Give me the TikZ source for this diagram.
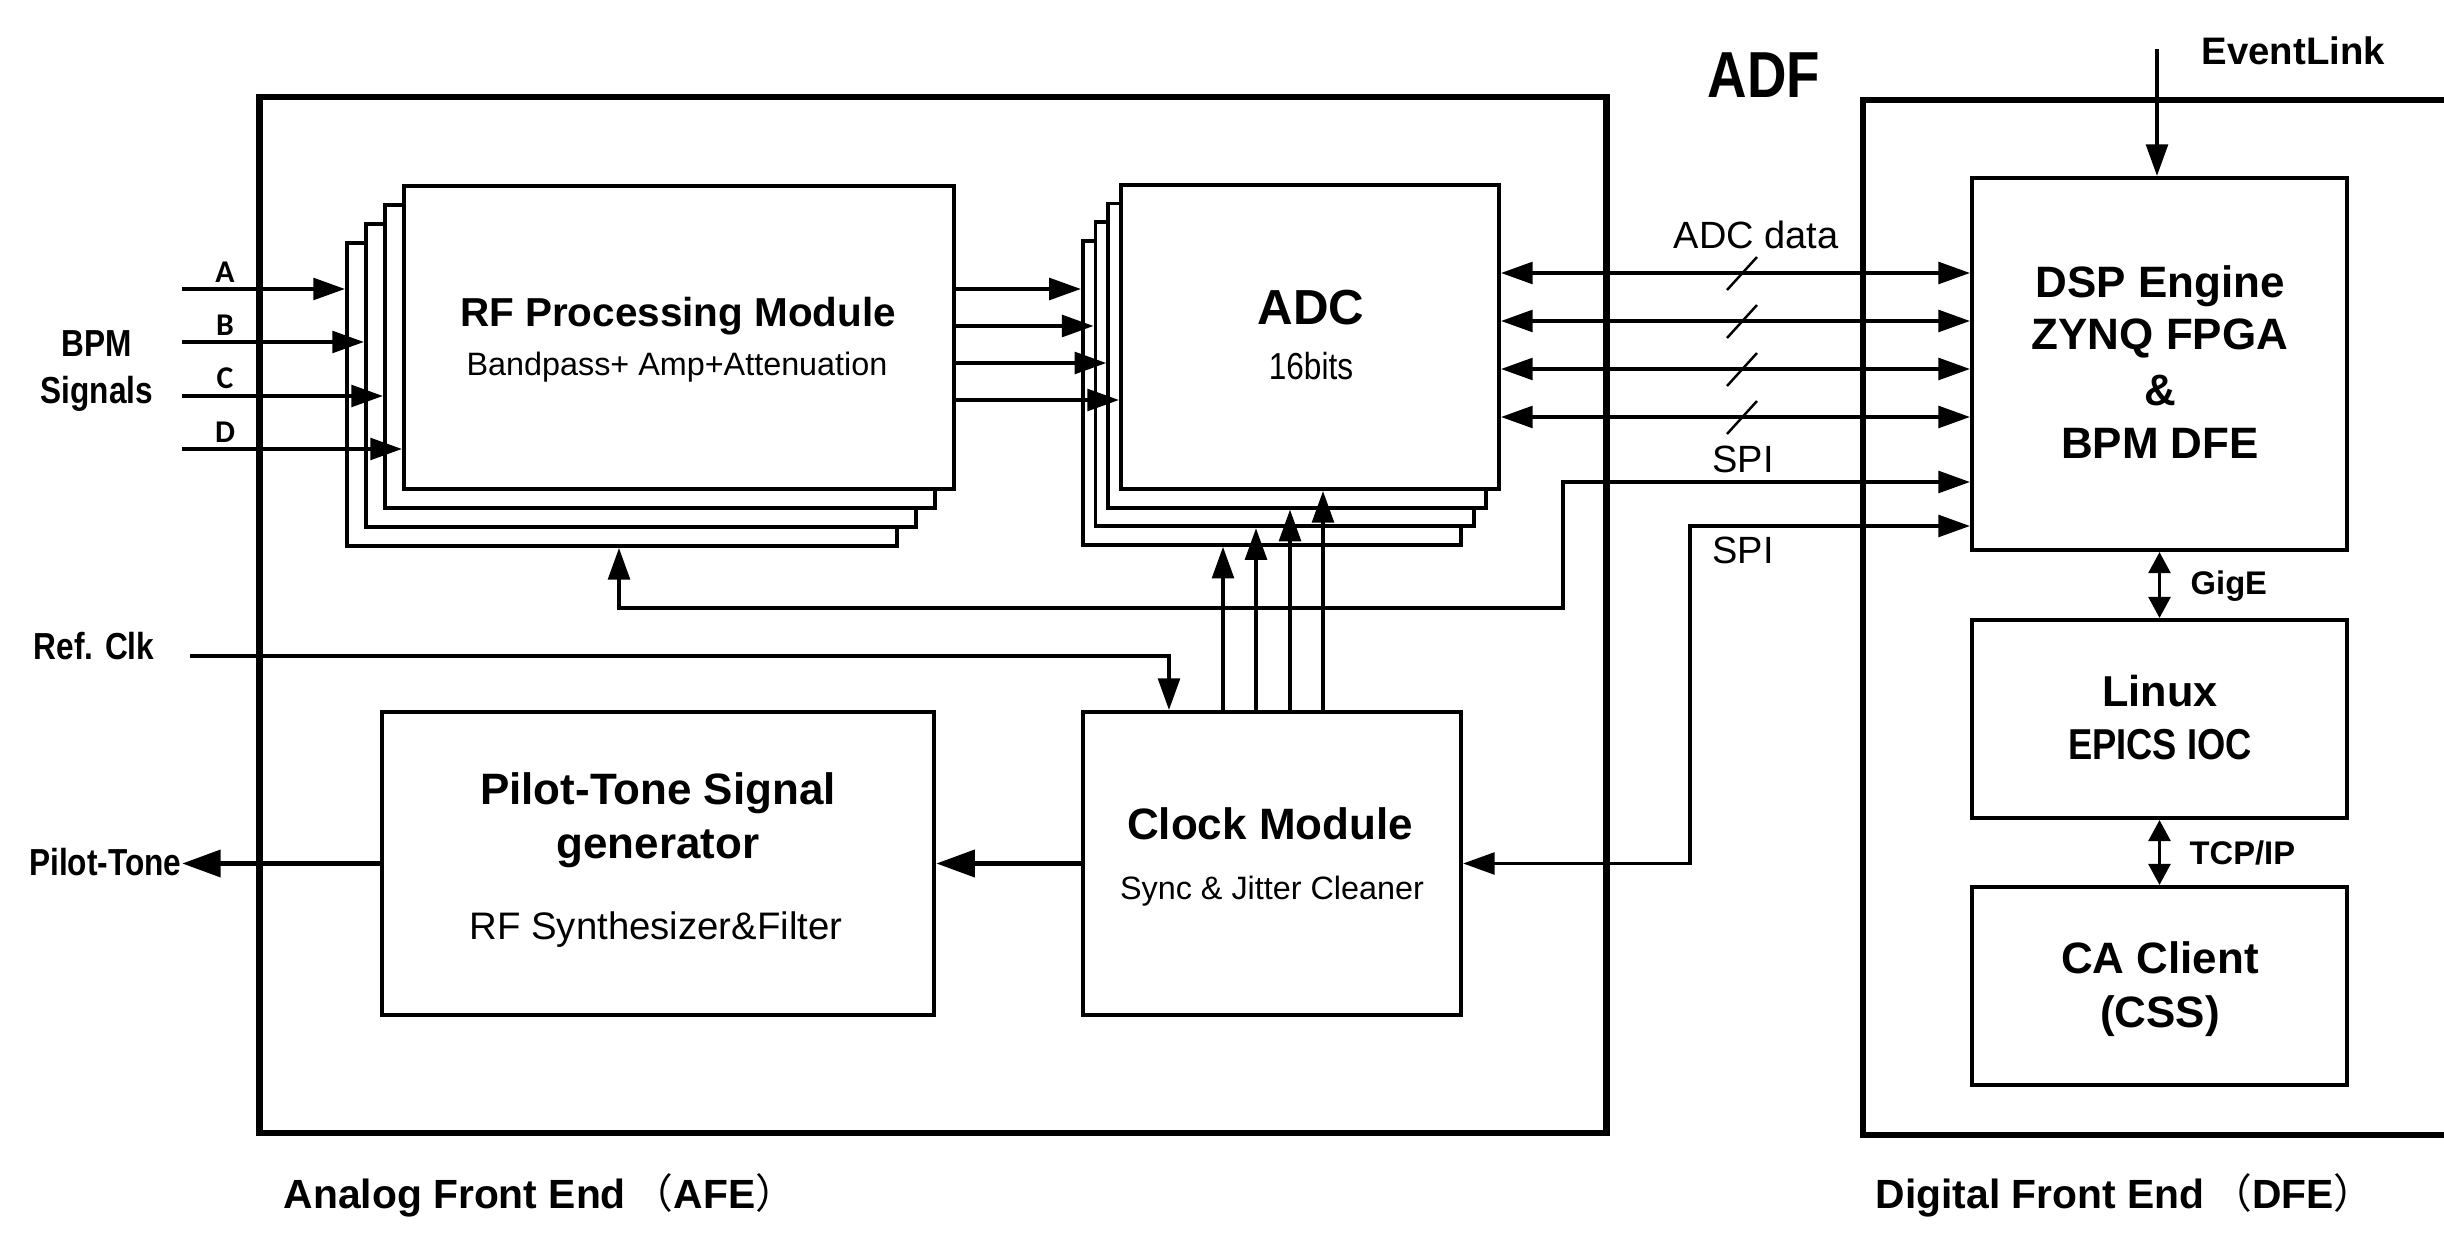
\documentclass[tikz,border=0pt]{standalone}
\usepackage{fontspec}
\setmainfont{Liberation Sans}
\newfontfamily\narrowfont{Liberation Sans}[FakeStretch=0.84]
\newfontfamily\calfont{Carlito}
\newfontfamily\cjkfont{Noto Sans CJK SC}
\usetikzlibrary{arrows.meta}

\begin{document}
\begin{tikzpicture}[x=0.01cm, y=-0.01cm, >={Triangle[length=9pt,width=6.2pt]},
    blk/.style={draw, line width=1.1pt, fill=white, inner sep=0pt},
    sig/.style={line width=0.95pt},
    thk/.style={line width=1.6pt, -{Triangle[length=11pt,width=7.5pt]}},
    lnk/.style={line width=0.95pt, {Triangle[length=6pt,width=6.2pt]}-{Triangle[length=6pt,width=6.2pt]}},
    ttl/.style={anchor=base, inner sep=0pt, font=\bfseries\fontsize{12.5}{15}\selectfont},
    sub/.style={anchor=base, inner sep=0pt, font=\fontsize{9.2}{11}\selectfont},
    lbl/.style={anchor=base, inner sep=0pt, font=\narrowfont\bfseries\fontsize{10.7}{13}\selectfont},
    wire/.style={anchor=base, inner sep=0pt, font=\fontsize{10.8}{13}\selectfont}]
    \useasboundingbox (0,0) rectangle (2444,1234);
    % AFE and DFE frames
    \node[draw, line width=1.8pt, minimum width=13.46cm, minimum height=10.36cm] (afe) at (933,615) {};
    \draw[line width=1.8pt] (2444,100) -- (1863,100) -- (1863,1135) -- (2444,1135);
    % stacked modules
    \foreach \k in {3,2,1,0}
        \node[blk, minimum width=5.5cm, minimum height=3.03cm] (rf\k) at (679-19*\k,337.5+19*\k) {};
    \foreach \k in {3,2,1,0}
        \node[blk, minimum width=3.78cm, minimum height=3.04cm] (adc\k) at (1310-12.7*\k,337+18.6*\k) {};
    \node[blk, minimum width=5.52cm, minimum height=3.03cm] (pilot) at (658,863.5) {};
    \node[blk, minimum width=3.78cm, minimum height=3.03cm] (clock) at (1272,863.5) {};
    \node[blk, minimum width=3.75cm, minimum height=3.72cm] (dsp) at (2159.5,364) {};
    \node[blk, minimum width=3.75cm, minimum height=1.98cm] (linux) at (2159.5,719) {};
    \node[blk, minimum width=3.75cm, minimum height=1.98cm] (caclient) at (2159.5,986) {};
    % box texts
    \node[ttl, font=\bfseries\fontsize{11.5}{14}\selectfont] (rftitle) at (678,327) {RF Processing Module};
    \node[sub] (rfsub) at (677,376) {Bandpass+ Amp+Attenuation};
    \node[ttl, font=\bfseries\fontsize{14}{17}\selectfont] (adctitle) at (1311,325) {ADC};
    \node[lbl, font=\narrowfont\fontsize{10.7}{13}\selectfont] (adcsub) at (1311,380) {16bits};
    \node[ttl] (pt1) at (658,805) {Pilot-Tone Signal};
    \node[ttl] (pt2) at (658,859) {generator};
    \node[sub, font=\fontsize{10.9}{13}\selectfont] (ptsub) at (656,940) {RF Synthesizer\&Filter};
    \node[ttl] (clktitle) at (1270,840) {Clock Module};
    \node[sub] (clksub) at (1272,900) {Sync \& Jitter Cleaner};
    \foreach \y/\t [count=\i] in {298/DSP Engine, 350/ZYNQ FPGA, 406/\&, 459/BPM DFE}
        \node[ttl] (dsptxt\i) at (2160,\y) {\t};
    \node[ttl, font=\bfseries\fontsize{12.3}{15}\selectfont] (lnx1) at (2160,707) {Linux};
    \node[ttl, font=\narrowfont\bfseries\fontsize{12.3}{15}\selectfont] (lnx2) at (2160,760) {EPICS IOC};
    \node[ttl] (ca1) at (2160,974) {CA Client};
    \node[ttl] (ca2) at (2160,1028) {(CSS)};
    % outside labels
    \node[ttl, font=\narrowfont\bfseries\fontsize{18.5}{22}\selectfont] (adf) at (1764,98) {ADF};
    \node[ttl, anchor=base west, font=\bfseries\fontsize{10.9}{13}\selectfont] (evt) at (2201,65) {EventLink};
    \node[wire] (adcdata) at (1756,249) {ADC data};
    \node[wire] (spi1) at (1743,473) {SPI};
    \node[wire] (spi2) at (1743,564) {SPI};
    \node[ttl, anchor=base west, font=\bfseries\fontsize{9.3}{11}\selectfont] (gige) at (2190,595) {GigE};
    \node[ttl, anchor=base west, font=\bfseries\fontsize{9.3}{11}\selectfont] (tcpip) at (2189,865) {TCP/IP};
    \node[lbl] (bpm1) at (97,357) {BPM};
    \node[lbl] (bpm2) at (97,404) {Signals};
    \node[lbl] (refclk) at (94,660) {Ref. Clk};
    \node[lbl, anchor=base east] (ptout) at (182,876) {Pilot-Tone};
    \foreach \l/\y in {A/283,B/336,C/389,D/443}
        \node[anchor=base, inner sep=0pt, font=\calfont\bfseries\fontsize{9}{11}\selectfont] (in\l) at (225,\y) {\l};
    \node[ttl, anchor=base west, font=\bfseries\fontsize{11.6}{14}\selectfont] (afelbl) at (283,1209)
        {Analog Front End\hspace{2pt}{\cjkfont\mdseries（}AFE{\cjkfont\mdseries）}};
    \node[ttl, anchor=base west, font=\bfseries\fontsize{11.6}{14}\selectfont] (dfelbl) at (1875,1209)
        {Digital Front End\hspace{2pt}{\cjkfont\mdseries（}DFE{\cjkfont\mdseries）}};
    % BPM inputs
    \foreach \y/\k in {289/3, 342/2, 396/1, 449/0} {
        \coordinate (bpmin\k) at (182,\y);
        \draw[sig,->] (bpmin\k) -- (rf\k.west |- bpmin\k);
    }
    % RF to ADC
    \foreach \y/\k in {289/3, 326/2, 363/1, 400/0}
        \draw[sig,->] (rf0.east |- 0,\y) -- (adc\k.west |- 0,\y);
    % clock to ADC
    \foreach \x/\k in {1223/3, 1256/2, 1290/1, 1323/0}
        \draw[sig,->] (clock.north -| \x,0) -- (adc\k.south -| \x,0);
    % ADC data buses
    \foreach \y in {273,321,369,417} {
        \draw[sig,<->] (adc0.east |- 0,\y) -- (dsp.west |- 0,\y);
        \draw[line width=0.7pt] (1727,\y+17) -- (1757,\y-16);
    }
    % SPI
    \coordinate (spa) at (1563,482);
    \coordinate (spb) at (619,608);
    \draw[sig,<->] (dsp.west |- spa) -- (spa) |- (spb) -- (spb |- rf3.south);
    \coordinate (spc) at (1690,526);
    \draw[sig,<->] (dsp.west |- spc) -- (spc) |- (clock.east);
    % reference clock
    \coordinate (rcin) at (190,656);
    \coordinate (rcturn) at (1169,656);
    \draw[sig,->] (rcin) -- (rcturn) -- (rcturn |- clock.north);
    % pilot tone
    \draw[thk] (clock.west) -- (pilot.east);
    \draw[thk] (pilot.west) -- (pilot.west -| ptout.east);
    % DFE links
    \coordinate (evin) at (2157,49);
    \draw[sig,->] (evin) -- (evin |- dsp.north);
    \draw[lnk] (dsp.south) -- (linux.north);
    \draw[lnk] (linux.south) -- (caclient.north);
\end{tikzpicture}
\end{document}
